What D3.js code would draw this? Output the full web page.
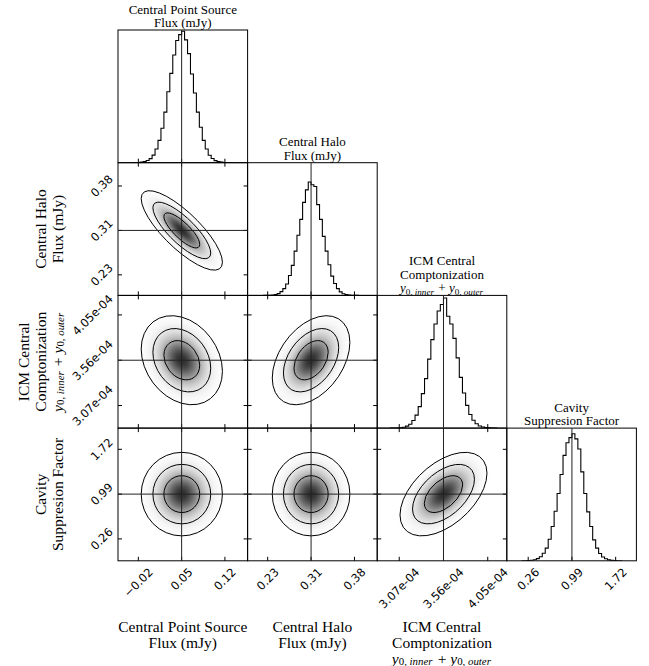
<!DOCTYPE html>
<html lang="en">
<head>
<meta charset="UTF-8">
<title>Corner plot</title>
<script src="https://d3js.org/d3.v7.min.js"></script>
<style>
  body { margin: 0; background: #fff; }
  .tick-label { font-family: 'DejaVu Sans', sans-serif; font-size: 11.5px; fill: #000; }
  .axis-label { font-family: 'Liberation Serif', serif; font-size: 15.5px; fill: #000; }
  .title { font-family: 'Liberation Serif', serif; font-size: 13px; fill: #000; }
</style>
</head>
<body>
<svg id="chart" width="649" height="666"></svg>
<script>
// parameter labels (line by line)
const labelLines = [
  ["Central Point Source", "Flux (mJy)"],
  ["Central Halo", "Flux (mJy)"],
  ["ICM Central", "Comptonization", "y_{0,inner} + y_{0,outer}"],
  ["Cavity", "Suppresion Factor"]
];

// axis ranges, ticks and truth values
const domains = [[-0.0529, 0.1567], [0.2003, 0.4243], [2.826e-4, 4.261e-4], [-0.097, 2.066]];
const tickValues = [[-0.02, 0.05, 0.12], [0.235, 0.31, 0.385], [3.07e-4, 3.56e-4, 4.05e-4], [0.26, 0.99, 1.72]];
const tickLabels = [["\u22120.02", "0.05", "0.12"], ["0.23", "0.31", "0.38"], ["3.07e-04", "3.56e-04", "4.05e-04"], ["0.26", "0.99", "1.72"]];
const truths = [0.05, 0.31, 3.56e-4, 0.99];

// posterior centres, widths and pair correlations
const means = [0.0503, 0.31, 3.56e-4, 0.99];
const sigmas = [0.0191, 0.0195, 1.40e-5, 0.198];
const pairRows = [1, 2, 2, 3, 3, 3];
const pairCols = [0, 0, 1, 0, 1, 2];
const pairRho = [-0.8, -0.25, 0.4, 0.0, 0.0, 0.5];

// 1D histograms (relative heights, 34 bins each)
const histRanges = [[-0.0312, 0.1312], [0.2271, 0.3929], [2.965e-4, 4.155e-4], [0.1485, 1.8315]];
const histMax = [1.01, 1.17, 1.02, 1.045];
const hist1 = [0, 0.001, 0.002, 0.004, 0.009, 0.017, 0.031, 0.058, 0.104, 0.17, 0.262, 0.385, 0.54, 0.68, 0.82, 0.93, 0.975, 1.0, 0.935, 0.83, 0.675, 0.53, 0.385, 0.27, 0.17, 0.104, 0.057, 0.032, 0.016, 0.008, 0.004, 0.0015, 0.0005, 0];
const hist2 = [0, 0.0005, 0.0015, 0.004, 0.008, 0.016, 0.033, 0.06, 0.1, 0.175, 0.265, 0.39, 0.53, 0.67, 0.82, 0.93, 1.0, 0.975, 0.96, 0.8, 0.67, 0.52, 0.39, 0.27, 0.17, 0.105, 0.06, 0.031, 0.015, 0.008, 0.003, 0.0012, 0.0004, 0];
const hist3 = [0, 0.0005, 0.001, 0.003, 0.007, 0.015, 0.03, 0.058, 0.1, 0.165, 0.265, 0.38, 0.53, 0.68, 0.8, 0.9, 0.95, 1.0, 0.86, 0.8, 0.69, 0.54, 0.39, 0.27, 0.175, 0.105, 0.06, 0.033, 0.016, 0.008, 0.004, 0.0015, 0.0005, 0];
const hist4 = [0, 0.0005, 0.0015, 0.004, 0.008, 0.017, 0.032, 0.06, 0.1, 0.17, 0.27, 0.39, 0.53, 0.68, 0.83, 0.93, 0.97, 1.0, 0.96, 0.88, 0.7, 0.53, 0.385, 0.27, 0.165, 0.1, 0.058, 0.03, 0.016, 0.007, 0.003, 0.0012, 0.0004, 0];
const hists = [hist1, hist2, hist3, hist4];

// contour radii (68%, 95%, 99.7% of 2D mass) in sigma units
const contourLevels = [1.515, 2.448, 3.439];

// layout
const gridLeft = 118, gridTop = 30, pw = 129.6, ph = 132.7, n = 4;
const svg = d3.select("#chart");
const defs = svg.append("defs");

const xs = domains.map(d => d3.scaleLinear().domain(d).range([0, pw]));
const ys = domains.map(d => d3.scaleLinear().domain(d).range([ph, 0]));

// density shading gradient
const R = 3.6;
const grad = defs.append("radialGradient").attr("id", "dens");
d3.range(0, 1.0001, 0.04).forEach(t => {
  const r = t * R, dd = Math.exp(-r * r / 2);
  const g = Math.round(255 * (1 - 0.82 * Math.pow(dd, 0.75)));
  grad.append("stop").attr("offset", t).attr("stop-color", `rgb(${g},${g},${g})`);
});

function panel(r, c) {
  const id = `clip-${r}-${c}`;
  defs.append("clipPath").attr("id", id).append("rect").attr("width", pw).attr("height", ph);
  const g = svg.append("g").attr("transform", `translate(${gridLeft + c * pw},${gridTop + r * ph})`);
  const inner = g.append("g").attr("clip-path", `url(#${id})`);
  return { g, inner };
}

// write a label line, with simple subscript support for y_{...}
function writeLine(text, str, size) {
  const parts = str.split(/(y_\{[^}]*\})/).filter(s => s.length);
  parts.forEach(p => {
    const m = p.match(/^y_\{([^,]*),([^}]*)\}$/);
    if (m) {
      text.append("tspan").attr("font-style", "italic").text("y");
      text.append("tspan").attr("font-size", size * 0.7).attr("dy", size * 0.22).text(m[1] + ", ");
      text.append("tspan").attr("font-size", size * 0.7).attr("font-style", "italic").text(m[2]);
      text.append("tspan").attr("dy", -size * 0.22).text("\u200a");
    } else {
      text.append("tspan").text(p);
    }
  });
}

const stepLine = d3.line().curve(d3.curveStepAfter);

for (let r = 0; r < n; r++) {
  for (let c = 0; c <= r; c++) {
    const { g, inner } = panel(r, c);
    const x = xs[c];
    if (r === c) {
      // diagonal histogram
      const counts = hists[c];
      const edges = d3.range(counts.length + 1).map(i => histRanges[c][0] + i * (histRanges[c][1] - histRanges[c][0]) / counts.length);
      const yh = d3.scaleLinear().domain([0, histMax[c]]).range([ph, 0]);
      const pts = [[x(edges[0]), yh(0)]];
      counts.forEach((v, i) => pts.push([x(edges[i]), yh(v)]));
      pts.push([x(edges[counts.length]), yh(counts[counts.length - 1])]);
      pts.push([x(edges[counts.length]), yh(0)]);
      inner.append("path").attr("d", stepLine(pts))
        .attr("fill", "none").attr("stroke", "#000").attr("stroke-width", 1.1);
    } else {
      // 2D posterior
      const y = ys[r];
      const k = pairRows.findIndex((pr, i) => pr === r && pairCols[i] === c);
      const rho = pairRho[k];
      const cx = x(means[c]), cy = y(means[r]);
      const sx = x(means[c] + sigmas[c]) - cx;
      const sy = cy - y(means[r] + sigmas[r]);
      const eg = inner.append("g")
        .attr("transform", `matrix(${sx},${-sy * rho},0,${-sy * Math.sqrt(1 - rho * rho)},${cx},${cy})`);
      eg.append("circle").attr("r", R).attr("fill", "url(#dens)");
      eg.selectAll("circle.ct").data(contourLevels).enter().append("circle")
        .attr("class", "ct").attr("r", d => d)
        .attr("fill", "none").attr("stroke", "#000").attr("stroke-width", 1)
        .attr("vector-effect", "non-scaling-stroke");
      // y ticks (inward, left and right)
      tickValues[r].forEach(v => {
        g.append("line").attr("x1", 0).attr("x2", 4).attr("y1", y(v)).attr("y2", y(v)).attr("stroke", "#000");
        g.append("line").attr("x1", pw).attr("x2", pw - 4).attr("y1", y(v)).attr("y2", y(v)).attr("stroke", "#000");
      });
      tickValues[c].forEach(v => {
        g.append("line").attr("x1", x(v)).attr("x2", x(v)).attr("y1", 0).attr("y2", 4).attr("stroke", "#000");
      });
    }
    // x ticks (inward, bottom)
    tickValues[c].forEach(v => {
      g.append("line").attr("x1", x(v)).attr("x2", x(v)).attr("y1", ph).attr("y2", ph - 4).attr("stroke", "#000");
    });
    g.append("rect").attr("width", pw).attr("height", ph)
      .attr("fill", "none").attr("stroke", "#000").attr("stroke-width", 1);
  }
}

// truth lines
for (let c = 0; c < n; c++) {
  const xv = gridLeft + c * pw + xs[c](truths[c]);
  svg.append("line").attr("x1", xv).attr("x2", xv)
    .attr("y1", gridTop + c * ph).attr("y2", gridTop + n * ph)
    .attr("stroke", "#222").attr("stroke-width", 1);
}
for (let r = 1; r < n; r++) {
  const yv = gridTop + r * ph + ys[r](truths[r]);
  svg.append("line").attr("x1", gridLeft).attr("x2", gridLeft + r * pw)
    .attr("y1", yv).attr("y2", yv)
    .attr("stroke", "#222").attr("stroke-width", 1);
}

// tick labels, rotated 45 degrees, bounding box centred on the tick
const tickFont = 11.5;
for (let c = 0; c < n; c++) {
  tickValues[c].forEach((v, i) => {
    const t = svg.append("text").attr("class", "tick-label")
      .attr("text-anchor", "middle").attr("dominant-baseline", "central").text(tickLabels[c][i]);
    const half = (t.node().getComputedTextLength() + tickFont * 0.8) / (2 * Math.SQRT2);
    t.attr("transform", `translate(${gridLeft + c * pw + xs[c](v)},${gridTop + n * ph + 6 + half}) rotate(-45)`);
  });
}
for (let r = 1; r < n; r++) {
  tickValues[r].forEach((v, i) => {
    const t = svg.append("text").attr("class", "tick-label")
      .attr("text-anchor", "middle").attr("dominant-baseline", "central").text(tickLabels[r][i]);
    const half = (t.node().getComputedTextLength() + tickFont * 0.8) / (2 * Math.SQRT2);
    t.attr("transform", `translate(${gridLeft - 4 - half},${gridTop + r * ph + ys[r](v)}) rotate(-45)`);
  });
}

// titles above diagonal panels
labelLines.forEach((lines, c) => {
  const cx = gridLeft + c * pw + pw / 2;
  lines.forEach((s, i) => {
    const t = svg.append("text").attr("class", "title").attr("text-anchor", "middle")
      .attr("x", cx).attr("y", gridTop + c * ph - 3 - (lines.length - 1 - i) * 13.5);
    writeLine(t, s, 13);
  });
});

// bottom axis labels
labelLines.slice(0, 3).forEach((lines, c) => {
  const cx = gridLeft + c * pw + pw / 2;
  lines.forEach((s, i) => {
    const t = svg.append("text").attr("class", "axis-label").attr("text-anchor", "middle")
      .attr("dominant-baseline", "central")
      .attr("x", cx).attr("y", 626 + i * 16);
    writeLine(t, s, 15.5);
  });
});

// left axis labels
labelLines.slice(1).forEach((lines, j) => {
  const r = j + 1;
  const cy = gridTop + r * ph + ph / 2;
  lines.forEach((s, i) => {
    const lx = 57 - (lines.length - 1 - i) * 17;
    const t = svg.append("text").attr("class", "axis-label").attr("text-anchor", "middle")
      .attr("dominant-baseline", "central")
      .attr("transform", `translate(${lx},${cy}) rotate(-90)`);
    writeLine(t, s, 15.5);
  });
});
</script>
</body>
</html>
